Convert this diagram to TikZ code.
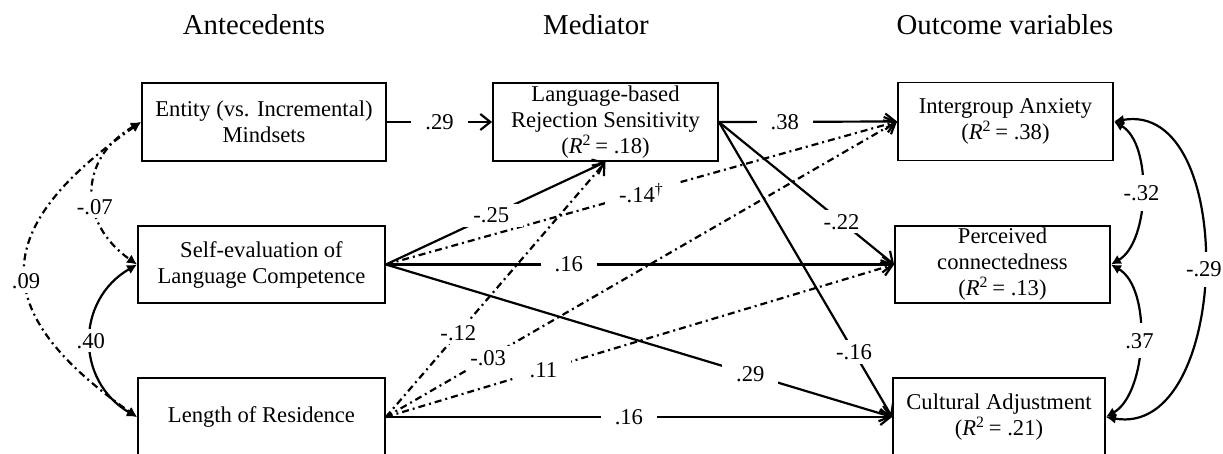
\documentclass[tikz,border=0pt]{standalone}
\usepackage{fontspec}
\setmainfont{Liberation Serif}
\usetikzlibrary{arrows.meta, positioning, calc}
\definecolor{pathInk}{RGB}{0,0,0}

\begin{document}
\begin{tikzpicture}[
    x=0.5pt, y=-0.5pt,
    hdr/.style    = {font=\fontsize{14.4}{16}\selectfont},
    varbox/.style = {draw=pathInk, line width=0.9pt, align=center,
                     font=\fontsize{11.3}{13}\selectfont, inner sep=1pt,
                     minimum height=39pt},
    coef/.style   = {font=\fontsize{11.3}{13}\selectfont, fill=white,
                     inner xsep=7pt, inner ysep=2pt},
    sig/.style    = {-{Straight Barb[length=5pt,width=8pt]}, line width=1.1pt,
                     draw=pathInk},
    nsig/.style   = {sig, dash pattern=on 3.5pt off 2pt on 1pt off 2pt},
    cov/.style    = {{Latex[length=5pt,width=5pt]}-{Latex[length=5pt,width=5pt]},
                     line width=1.1pt, draw=pathInk},
    ncov/.style   = {cov, dash pattern=on 3.5pt off 2pt on 1pt off 2pt}
]
\useasboundingbox (0,0) rectangle (1223,454);

% Column headings
\node[hdr] (hdA) at (254,25) {Antecedents};
\node[hdr] (hdM) at (596,25) {Mediator};
\node[hdr] (hdO) at (1005,25) {Outcome variables};

% Antecedents
\node[varbox, minimum width=122pt] (ent) at (264,122)
    {Entity (vs. Incremental)\\Mindsets};
\node[varbox, minimum width=123.5pt, minimum height=38.5pt] (sel) at (261.5,264.5)
    {Self-evaluation of\\Language Competence};
\node[varbox, minimum width=123.5pt] (lor) at (261.5,417)
    {Length of Residence};

% Mediator
\node[varbox, minimum width=112.5pt] (lrs) at (605.5,122)
    {Language-based\\Rejection Sensitivity\\(\textit{R}\textsuperscript{2}\,= .18)};

% Outcome variables
\node[varbox, minimum width=107.5pt] (ia) at (1005.5,121.5)
    {Intergroup Anxiety\\(\textit{R}\textsuperscript{2}\,= .38)};
\node[varbox, minimum width=107.5pt, minimum height=38.5pt] (pc) at (1002.5,264.5)
    {Perceived\\connectedness\\(\textit{R}\textsuperscript{2}\,= .13)};
\node[varbox, minimum width=106pt] (ca) at (999,417)
    {Cultural Adjustment\\(\textit{R}\textsuperscript{2}\,= .21)};

% Direct paths
\draw[nsig] (sel.east) -- node[coef, pos=0.5]{-.14\textsuperscript{\dag}} (ia.west);
\draw[sig]  (sel.east) -- node[coef, pos=0.36]{.16} (pc.west);
\draw[sig]  (sel.east) -- node[coef, pos=0.72]{.29} (ca.west);
\draw[nsig] (lor.east) -- node[coef, pos=0.20]{-.03} (ia.west);
\draw[nsig] (lor.east) -- node[coef, pos=0.31]{.11} (pc.west);
\draw[sig]  (lor.east) -- node[coef, pos=0.48]{.16} (ca.west);

% Antecedents -> mediator
\draw[sig]  (ent) -- node[coef]{.29} (lrs);
\draw[sig]  (sel.east) -- node[coef, pos=0.48]{-.25} (lrs.south);
\draw[nsig] (lor.east) -- node[coef, pos=0.33]{-.12} (lrs.south);

% Mediator -> outcomes
\draw[sig] (lrs.east) -- node[coef, pos=0.37]{.38} (ia.west);
\draw[sig] (lrs.east) -- node[coef, pos=0.70]{-.22} (pc.west);
\draw[sig] (lrs.east) -- node[coef, pos=0.78]{-.16} (ca.west);

% Covariances among antecedents
\draw[ncov] (ent.west) to[out=210, in=145, looseness=1.3] node[coef, inner xsep=2pt, pos=0.6]{-.07} (sel.west);
\draw[cov]  (sel.west) to[out=210, in=150, looseness=1.2] node[coef, inner xsep=2pt]{.40} (lor.west);
\draw[ncov] (ent.west) to[out=215, in=145, looseness=1.6] node[coef, inner xsep=2pt, pos=0.54]{.09} (lor.west);

% Residual covariances among outcomes
\draw[cov] (ia.east) to[out=-30, in=30, looseness=0.8] node[coef, inner xsep=2pt, inner ysep=5pt]{-.32} (pc.east);
\draw[cov] (pc.east) to[out=-30, in=30, looseness=0.8] node[coef, inner xsep=2pt, inner ysep=5pt]{.37} (ca.east);
\draw[cov] (ia.east) to[out=10, in=-10, looseness=1.1] node[coef, inner xsep=2pt, inner ysep=5pt]{-.29} (ca.east);

\end{tikzpicture}
\end{document}
